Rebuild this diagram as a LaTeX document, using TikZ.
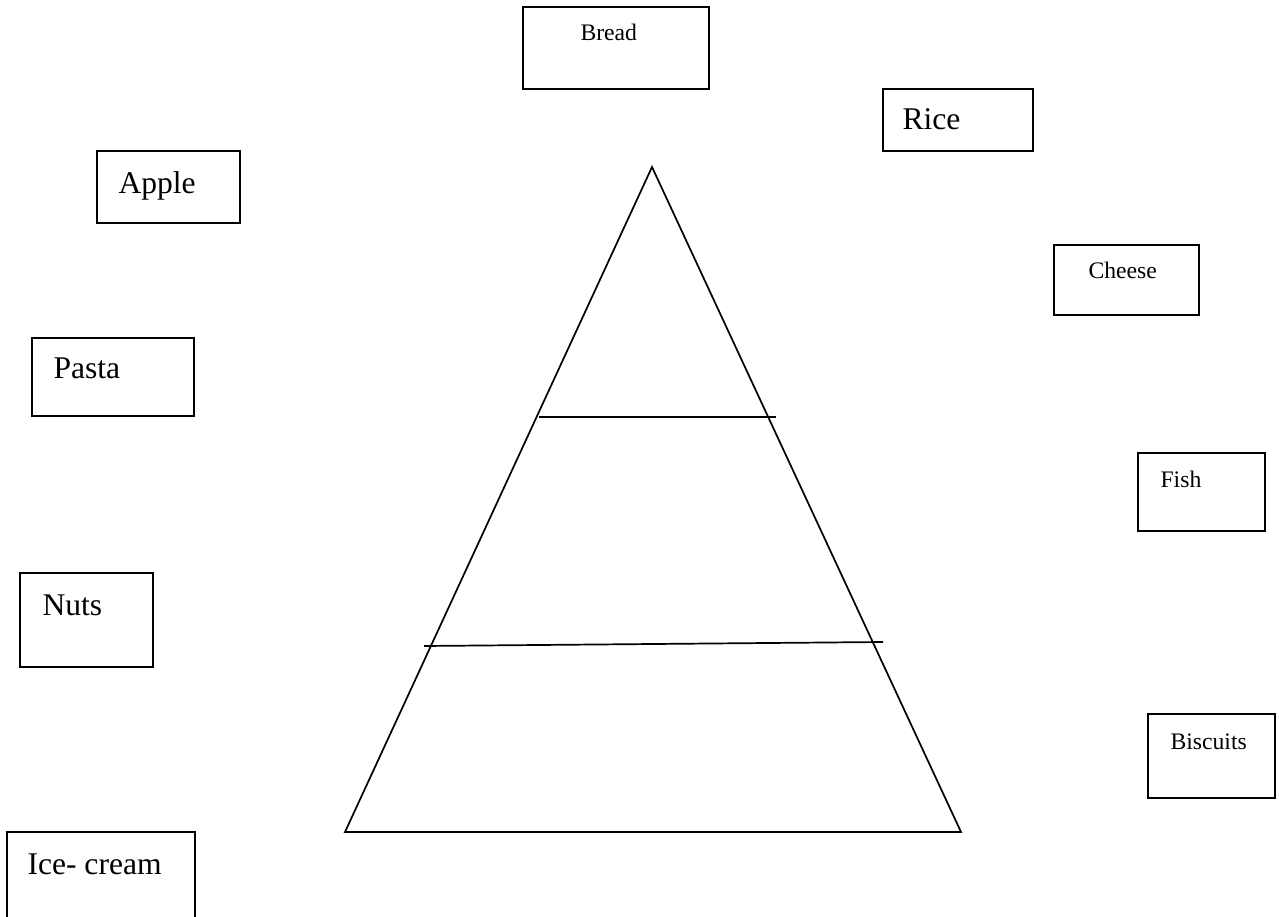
\documentclass[tikz,border=0pt]{standalone}
\usepackage{fontspec}
\setmainfont{Liberation Serif}
\usepackage{tikz}
\usetikzlibrary{positioning}

\tikzset{
  foodbox/.style={draw=black,line width=0.8pt},
  pyramid/.style={draw=black,line width=0.65pt,line join=miter},
  bigtext/.style={anchor=base west,inner sep=0pt,font=\fontsize{12}{14}\selectfont},
  smalltext/.style={anchor=base west,inner sep=0pt,font=\fontsize{9}{11}\selectfont},
}

\begin{document}
\begin{tikzpicture}[x=0.38pt,y=-0.38pt]
    \useasboundingbox (0,0) rectangle (1279,917);
    % pyramid
    \coordinate (apex) at (652,167);
    \coordinate (baseL) at (345,832);
    \coordinate (baseR) at (961,832);
    \coordinate (tierA west) at (539,417);
    \coordinate (tierA east) at (776,417);
    \coordinate (tierB west) at (424,646);
    \coordinate (tierB east) at (883,642);
    \draw[pyramid] (apex) -- (baseL) -- (baseR) -- cycle;
    \draw[pyramid] (tierA west) -- (tierA east);
    \draw[pyramid] (tierB west) -- (tierB east);
    % boxes, left column
    \draw[foodbox] (97,151) rectangle (240,223);
    \node[bigtext] (apple) at (118,194) {Apple};
    \draw[foodbox] (32,338) rectangle (194,416);
    \node[bigtext] (pasta) at (53,379) {Pasta};
    \draw[foodbox] (20,573) rectangle (153,667);
    \node[bigtext] (nuts) at (42,616) {Nuts};
    \draw[foodbox] (7,832) rectangle (195,930);
    \node[bigtext] (icecream) at (27,874) {Ice- cream};
    % boxes, top and right
    \draw[foodbox] (523,7) rectangle (709,89);
    \node[smalltext] (bread) at (580,41) {Bread};
    \draw[foodbox] (883,89) rectangle (1033,151);
    \node[bigtext] (rice) at (902,130) {Rice};
    \draw[foodbox] (1054,245) rectangle (1199,315);
    \node[smalltext] (cheese) at (1088,279) {Cheese};
    \draw[foodbox] (1138,453) rectangle (1265,531);
    \node[smalltext] (fish) at (1160,488) {Fish};
    \draw[foodbox] (1148,714) rectangle (1275,798);
    \node[smalltext] (biscuits) at (1170,749) {Biscuits};
  \end{tikzpicture}
\end{document}
